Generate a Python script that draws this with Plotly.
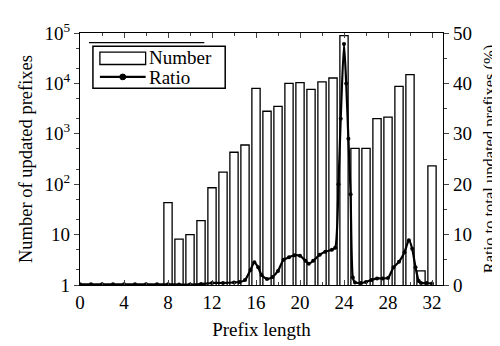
import plotly.graph_objects as go

# Bar data: number of updated prefixes per prefix length
prefix_lengths = [8, 9, 10, 11, 12, 13, 14, 15, 16, 17, 18, 19, 20, 21, 22, 23, 24, 25, 26, 27, 28, 29, 30, 31, 32]
number_updated = [43, 8.1, 10, 19, 85, 173, 430, 600, 8000, 2800, 3500, 10000, 10400, 7600, 10700, 12800, 89000,
                  515, 515, 2000, 2150, 8700, 15000, 1.9, 230]

# Ratio curve
ratio_x = [0, 1, 2, 3, 4, 5, 6, 7, 8, 9, 10, 11, 12, 13, 14, 14.5, 15, 15.5, 15.85, 16.2, 16.5, 17, 17.5, 18,
           18.5, 19, 19.5, 20, 20.5, 20.8, 21.2, 21.8, 22.3, 22.9, 23.2, 23.5, 23.7, 24, 24.2, 24.4, 24.6, 24.8,
           25, 25.5, 26, 26.5, 27, 27.5, 28, 28.5, 29, 29.5, 29.9, 30.2, 30.5, 30.8, 31, 31.5, 32]
ratio_y = [0.15, 0.15, 0.15, 0.15, 0.15, 0.15, 0.15, 0.15, 0.15, 0.1, 0.1, 0.2, 0.4, 0.4, 0.5, 0.6, 1.0, 3.0, 4.5,
           3.5, 2.0, 1.2, 1.6, 2.8, 5.0, 5.5, 5.9, 5.8, 4.8, 4.2, 4.8, 6.0, 6.6, 7.0, 7.4, 20, 33, 47.8, 40, 29, 18,
           1.5, 0.5, 0.4, 0.6, 1.0, 1.3, 1.3, 1.4, 3.5, 4.6, 6.5, 8.9, 7.2, 3.5, 0.8, 0.4, 0.4, 0.3]

y_tickvals = [1, 10, 100, 1000, 10000, 100000]
y_ticktext = ["1", "10", "10<sup>2</sup>", "10<sup>3</sup>", "10<sup>4</sup>", "10<sup>5</sup>"]
legend_labels = ["Number", "Ratio"]
right_title = "Ratio to total updated prefixes (%)"

FONT = "Times New Roman, Liberation Serif, Tinos, serif"
FS = 19
L, R, T, B = 72, 437, 13, 277


def px(x):
    return (x - L) / (R - L)


def py(y):
    return (B - y) / (B - T)


fig = go.Figure()
fig.add_trace(go.Bar(
    x=prefix_lengths, y=number_updated, name=legend_labels[0], width=0.75,
    marker=dict(color="white", line=dict(color="black", width=1.3)),
    yaxis="y", showlegend=False,
))
fig.add_trace(go.Scatter(
    x=ratio_x, y=ratio_y, name=legend_labels[1], mode="lines+markers",
    line=dict(color="black", width=2.2, shape="spline", smoothing=0.6),
    marker=dict(color="black", size=4),
    yaxis="y2", showlegend=False,
))

fig.update_layout(
    width=500, height=346,
    margin=dict(l=L, r=500 - R, t=T, b=346 - B),
    plot_bgcolor="white", paper_bgcolor="white",
    font=dict(family=FONT, size=FS, color="black"),
    xaxis=dict(range=[0, 33], tick0=0, dtick=4, ticks="inside", ticklen=5,
               showline=True, linecolor="black", linewidth=1.3, mirror="ticks",
               showgrid=False, zeroline=False,
               minor=dict(dtick=2, ticks="inside", ticklen=3),
               title=dict(text="Prefix length", standoff=10, font=dict(family=FONT, size=FS)),
               tickfont=dict(family=FONT, size=FS)),
    yaxis=dict(type="log", range=[0, 5], tickvals=y_tickvals, ticktext=y_ticktext,
               ticks="outside", ticklen=5, showline=True, linecolor="black", linewidth=1.3,
               showgrid=False, zeroline=False,
               minor=dict(ticks="outside", ticklen=3, dtick="D2"),
               title=dict(text="Number of updated prefixes", standoff=6, font=dict(family=FONT, size=18.5)),
               tickfont=dict(family=FONT, size=FS)),
    yaxis2=dict(overlaying="y", side="right", range=[0, 50], dtick=10,
                ticks="outside", ticklen=5, showline=True, linecolor="black", linewidth=1.3,
                showgrid=False, zeroline=False,
                minor=dict(dtick=5, ticks="outside", ticklen=3),
                title=dict(text=right_title, standoff=12, font=dict(family=FONT, size=16.5)),
                tickfont=dict(family=FONT, size=FS)),
)

# stray line above legend (as in reference)
fig.add_shape(type="line", xref="paper", yref="paper",
              x0=px(81), x1=px(197), y0=py(23), y1=py(23), line=dict(color="black", width=1.3))
# legend box
fig.add_shape(type="rect", xref="paper", yref="paper",
              x0=px(85), x1=px(218), y0=py(71), y1=py(27),
              line=dict(color="black", width=1.5), fillcolor="white")
# legend symbols
fig.add_shape(type="rect", xref="paper", yref="paper",
              x0=px(92), x1=px(138), y0=py(46), y1=py(33),
              line=dict(color="black", width=1.3), fillcolor="white")
fig.add_shape(type="line", xref="paper", yref="paper",
              x0=px(92), x1=px(138), y0=py(59), y1=py(59), line=dict(color="black", width=2.2))
fig.add_shape(type="circle", xref="paper", yref="paper",
              x0=px(112), x1=px(118), y0=py(62), y1=py(56),
              line=dict(color="black", width=1), fillcolor="black")
for label, yy in zip(legend_labels, [39, 60]):
    fig.add_annotation(text=label, xref="paper", yref="paper", x=px(139), y=py(yy),
                       xanchor="left", yanchor="middle", showarrow=False,
                       font=dict(family=FONT, size=FS, color="black"))

fig.write_html("out.html")
